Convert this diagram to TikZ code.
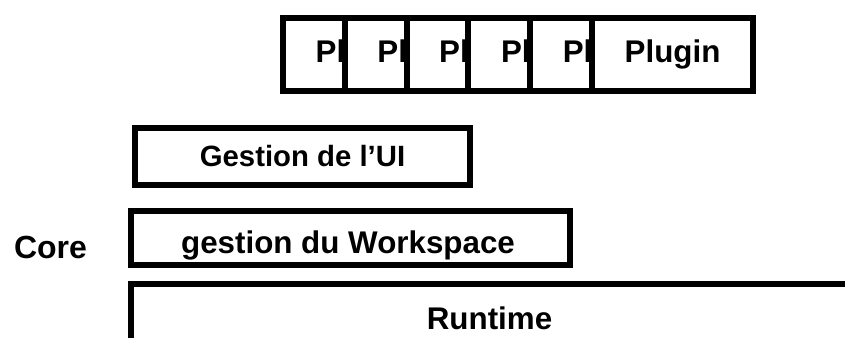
\documentclass[tikz,border=0pt]{standalone}
\usepackage{fontspec}
\setmainfont{Liberation Sans}
\usetikzlibrary{positioning}

\tikzset{
  layerbox/.style={draw, fill=white, line width=4.5pt, inner sep=0pt,
    font=\fontsize{23.5}{27}\selectfont\bfseries},
  pluginbox/.style={layerbox, minimum width=120.75pt, minimum height=54.75pt},
  layertext/.style={inner sep=0pt, font=\fontsize{23.5}{27}\selectfont\bfseries}
}

\begin{document}
\begin{tikzpicture}[x=0.75pt, y=-0.75pt]
			%%%%% START %%%%%
			\useasboundingbox (0, 0) rectangle (845, 338);
			\clip (0, 0) rectangle (845, 338);
			
			% plugins, each one covering the previous
			\foreach \i in {0,...,5} {
				\node[pluginbox, anchor=west] (plug\i) at ({280 + 61.8*\i}, 54.5) {Plugin};
			}
			
			\node[layerbox, minimum width=251.25pt, minimum height=42.75pt,
				font=\fontsize{22}{26}\selectfont\bfseries] (ui) at (302.5, 156.5) {Gestion de l'UI};
			\node[layerbox, minimum width=329.6pt, minimum height=40.5pt] (ws) at (350.25, 238) {};
			\node[layertext] (wslabel) at (348, 245.5) {gestion du Workspace};
			
			\node[layertext, font=\fontsize{24}{28}\selectfont\bfseries] (core) at (50.5, 247) {Core};
			
			% runtime, open at the bottom and on the right
			\coordinate (rtcorner) at (130.5, 283.5);
			\draw[line width=4.5pt] (130.5, 360) -- (rtcorner) -- (870, 283.5);
			\node[layertext] (runtime) at (489.5, 318) {Runtime};
			
			%%%%% END %%%%%
\end{tikzpicture}
\end{document}
